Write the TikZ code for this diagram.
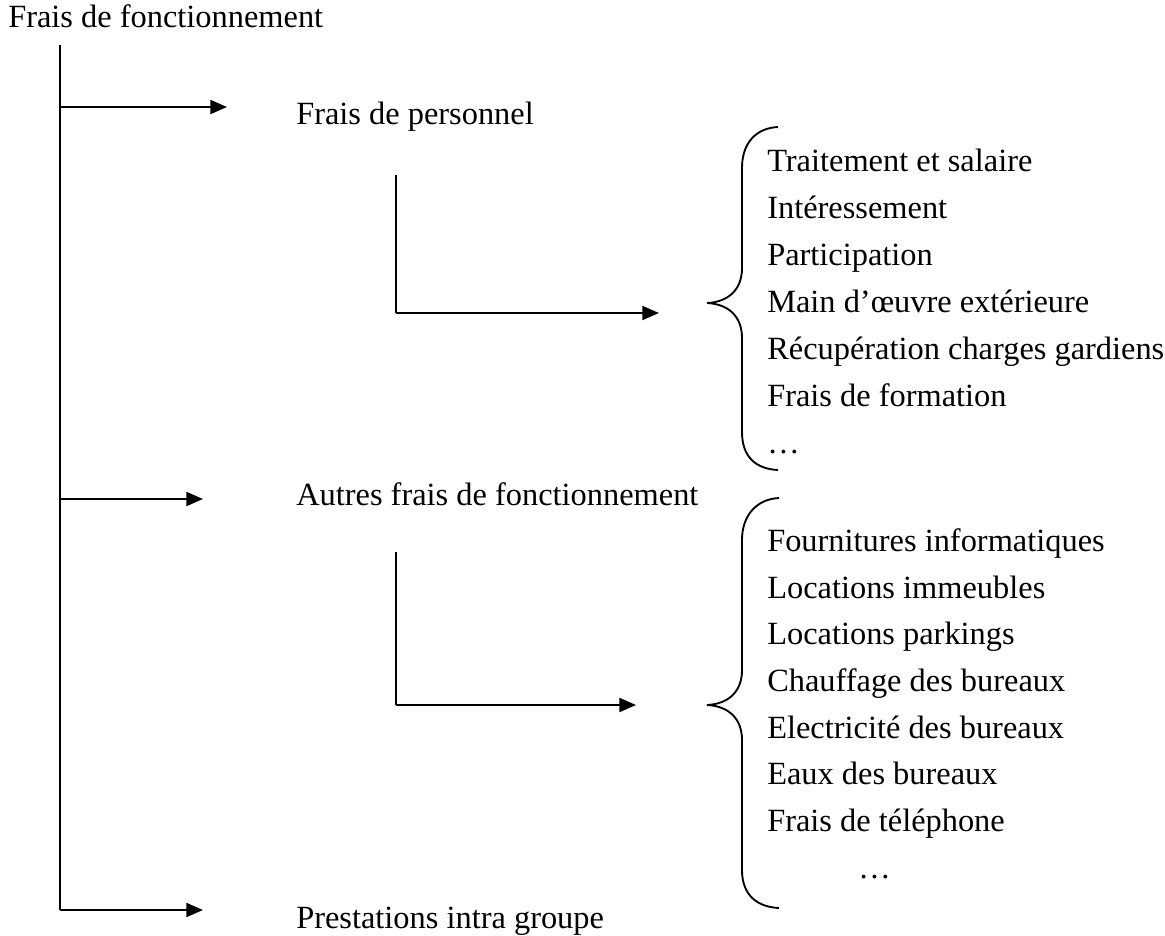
\documentclass[tikz,border=0pt]{standalone}
\usepackage{fontspec}
\setmainfont{Liberation Serif}
\usetikzlibrary{arrows.meta}
\begin{document}
\begin{tikzpicture}[x=0.75pt,y=-0.75pt,
  lbl/.style={anchor=base west,inner sep=0pt,font=\fontsize{24.3}{28}\selectfont},
  conn/.style={line width=1.5pt},
  arr/.style={conn,-{Triangle[length=12.5pt,width=10.5pt]}},
  brace/.style={line width=1.4pt}]
\useasboundingbox (0,0) rectangle (1165,936);
% main labels
\node[lbl] (root) at (8,27) {Frais de fonctionnement};
\node[lbl] (perso) at (296,124) {Frais de personnel};
\node[lbl] (autres) at (296,505) {Autres frais de fonctionnement};
\node[lbl] (presta) at (296,928) {Prestations intra groupe};
% list 1
\node[lbl] (a1) at (767,171) {Traitement et salaire};
\node[lbl] (a2) at (767,218) {Intéressement};
\node[lbl] (a3) at (767,265) {Participation};
\node[lbl] (a4) at (767,312) {Main d’œuvre extérieure};
\node[lbl] (a5) at (767,359) {Récupération charges gardiens};
\node[lbl] (a6) at (767,406) {Frais de formation};
\node[lbl] (a7) at (767,453) {…};
% list 2
\node[lbl] (b1) at (767,551) {Fournitures informatiques};
\node[lbl] (b2) at (767,598) {Locations immeubles};
\node[lbl] (b3) at (767,644) {Locations parkings};
\node[lbl] (b4) at (767,691) {Chauffage des bureaux};
\node[lbl] (b5) at (767,738) {Electricité des bureaux};
\node[lbl] (b6) at (767,784) {Eaux des bureaux};
\node[lbl] (b7) at (767,831) {Frais de téléphone};
\node[lbl] (b8) at (858,878) {…};
% coordinates
\coordinate (mtop) at (60,45);
\coordinate (m1) at (60,107);
\coordinate (m2) at (60,499);
\coordinate (m3) at (60,910);
\coordinate (t1) at (227,107);
\coordinate (t2) at (203,499);
\coordinate (t3) at (203,910);
\coordinate (s1top) at (396,175);
\coordinate (s1) at (396,313);
\coordinate (u1) at (659,313);
\coordinate (s2top) at (396,552);
\coordinate (s2) at (396,705);
\coordinate (u2) at (636,705);
% connectors
\draw[conn] (mtop) -- (m3);
\draw[arr] (m1) -- (t1);
\draw[arr] (m2) -- (t2);
\draw[arr] (m3) -- (t3);
\draw[conn] (s1top) -- (s1);
\draw[arr] (s1) -- (u1);
\draw[conn] (s2top) -- (s2);
\draw[arr] (s2) -- (u2);
% braces
\draw[brace] (778,127) .. controls (756,128) and (742,143) .. (742,168)
  -- (742,268) .. controls (742,290) and (728,302) .. (707,303)
  .. controls (728,304) and (742,316) .. (742,338)
  -- (742,432) .. controls (742,457) and (756,469) .. (778,470);
\draw[brace] (779,498) .. controls (757,499) and (742,515) .. (742,540)
  -- (742,670) .. controls (742,692) and (728,704) .. (707,705)
  .. controls (728,706) and (742,718) .. (742,740)
  -- (742,870) .. controls (742,895) and (757,907) .. (779,908);
\end{tikzpicture}
\end{document}
